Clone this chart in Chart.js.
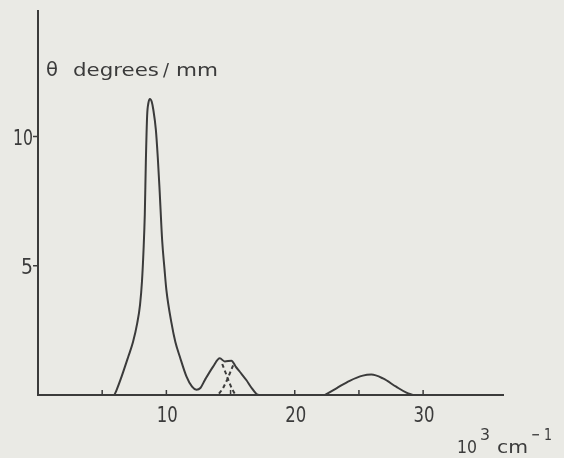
<!DOCTYPE html>
<html>
<head>
<meta charset="utf-8">
<script src="https://cdn.jsdelivr.net/npm/chart.js@4"></script>
<style>
  html, body { margin: 0; padding: 0; background: #eaeae5; }
  canvas { display: block; }
</style>
</head>
<body>
<canvas id="spectrum" width="564" height="458"></canvas>
<script>
// wavenumber (10^3 cm^-1) and rotation (degrees/mm)
const mainX = [5.95, 6.12, 6.51, 7.03, 7.4, 7.73, 7.95, 8.1, 8.22, 8.32, 8.4, 8.5, 8.6, 8.72, 8.86, 8.98, 9.18, 9.33, 9.47, 9.67, 9.85, 10.0, 10.4, 10.7, 11.05, 11.57, 12.0, 12.35, 12.65, 13.0, 13.64, 14.16, 14.55, 15.07, 15.4, 15.72, 16.24, 16.6, 17.0, 17.2];
const mainY = [0, 0.19, 0.71, 1.48, 2.05, 2.78, 3.5, 4.4, 5.6, 7.0, 9.0, 10.8, 11.3, 11.46, 11.35, 11.05, 10.27, 9.2, 7.95, 6.0, 4.9, 4.07, 2.78, 2.05, 1.48, 0.71, 0.32, 0.2, 0.27, 0.58, 1.1, 1.42, 1.3, 1.33, 1.1, 0.9, 0.57, 0.3, 0.05, 0];

const uvX = [22.33, 23.25, 24.28, 25.3, 25.97, 26.87, 27.9, 28.7, 29.2];
const uvY = [0, 0.26, 0.55, 0.75, 0.79, 0.64, 0.32, 0.09, 0];

// resolved components of the doublet (dashed)
const compAX = [14.35, 14.6, 14.85, 15.1, 15.35];
const compAY = [1.2, 0.88, 0.55, 0.25, 0.03];
const compBX = [14.1, 14.4, 14.7, 14.95, 15.2];
const compBY = [0.05, 0.25, 0.55, 0.85, 1.15];

const xTickMarks = [5, 10, 15, 20, 25, 30];
const xTickLabels = [10, 20, 30];
const yTickMarks = [5, 10];
const yTickLabels = [5, 10];

const ink = "#3b3b3b";

function pts(xs, ys) {
  return xs.map((x, i) => ({ x: x, y: ys[i] }));
}

// draw text squeezed/stretched to a given width
function fitText(ctx, text, x, base, size, w, align) {
  ctx.save();
  ctx.font = size + "px 'DejaVu Sans'";
  const m = ctx.measureText(text).width;
  const sx = w / m;
  let left = x;
  if (align === "right") left = x - w;
  if (align === "center") left = x - w / 2;
  ctx.translate(left, base);
  ctx.scale(sx, 1);
  ctx.textAlign = "left";
  ctx.textBaseline = "alphabetic";
  ctx.fillStyle = ink;
  ctx.fillText(text, 0, 0);
  ctx.restore();
}

const axesPlugin = {
  id: "handAxes",
  beforeDatasetsDraw(chart) {
    const ctx = chart.ctx;
    const xs = chart.scales.x;
    const ys = chart.scales.y;
    const x0 = xs.getPixelForValue(0);
    const y0 = ys.getPixelForValue(0);
    ctx.save();
    ctx.strokeStyle = ink;
    ctx.lineWidth = 2;
    ctx.beginPath();
    ctx.moveTo(x0, ys.top);
    ctx.lineTo(x0, y0 + 1);
    ctx.moveTo(x0 - 1, y0);
    ctx.lineTo(xs.right, y0);
    ctx.stroke();

    ctx.lineWidth = 1.5;
    ctx.beginPath();
    xTickMarks.forEach(v => {
      const px = xs.getPixelForValue(v);
      ctx.moveTo(px, y0);
      ctx.lineTo(px, y0 - 5);
    });
    yTickMarks.forEach(v => {
      const py = ys.getPixelForValue(v);
      ctx.moveTo(x0, py);
      ctx.lineTo(x0 - 5, py);
    });
    ctx.stroke();
    ctx.restore();

    xTickLabels.forEach(v => {
      fitText(ctx, String(v), xs.getPixelForValue(v) + 1, 421.5, 21, 21, "center");
    });
    yTickLabels.forEach(v => {
      const w = v < 10 ? 12 : 20;
      fitText(ctx, String(v), x0 - 5, ys.getPixelForValue(v) + 8, 21, w, "right");
    });

    // y axis title
    fitText(ctx, "θ", 46, 76, 19, 12, "left");
    fitText(ctx, "degrees", 73, 76, 18, 86, "left");
    fitText(ctx, "/", 163, 76, 18, 6, "left");
    fitText(ctx, "mm", 176, 76, 18, 42, "left");

    // x axis unit
    fitText(ctx, "10", 457, 453, 18, 20, "left");
    fitText(ctx, "3", 480, 440, 16, 10, "left");
    fitText(ctx, "cm", 497, 453, 18, 31, "left");
    fitText(ctx, "−", 531, 440, 16, 9, "left");
    fitText(ctx, "1", 544, 440, 16, 8, "left");
  }
};

new Chart(document.getElementById("spectrum").getContext("2d"), {
  type: "line",
  data: {
    datasets: [
      {
        data: pts(mainX, mainY),
        borderColor: ink,
        borderWidth: 2,
        cubicInterpolationMode: "monotone",
        pointRadius: 0,
      },
      {
        data: pts(uvX, uvY),
        borderColor: ink,
        borderWidth: 2,
        cubicInterpolationMode: "monotone",
        pointRadius: 0,
      },
      {
        data: pts(compAX, compAY),
        borderColor: ink,
        borderWidth: 2,
        borderDash: [4, 3],
        tension: 0,
        pointRadius: 0,
      },
      {
        data: pts(compBX, compBY),
        borderColor: ink,
        borderWidth: 2,
        borderDash: [4, 3],
        tension: 0,
        pointRadius: 0,
      },
    ],
  },
  options: {
    responsive: false,
    animation: false,
    layout: { padding: { left: 38, top: 10, right: 60, bottom: 63 } },
    plugins: { legend: { display: false }, tooltip: { enabled: false } },
    scales: {
      x: { type: "linear", min: 0, max: 36.3, display: false },
      y: { min: 0, max: 14.9, display: false },
    },
  },
  plugins: [axesPlugin],
});
</script>
</body>
</html>
